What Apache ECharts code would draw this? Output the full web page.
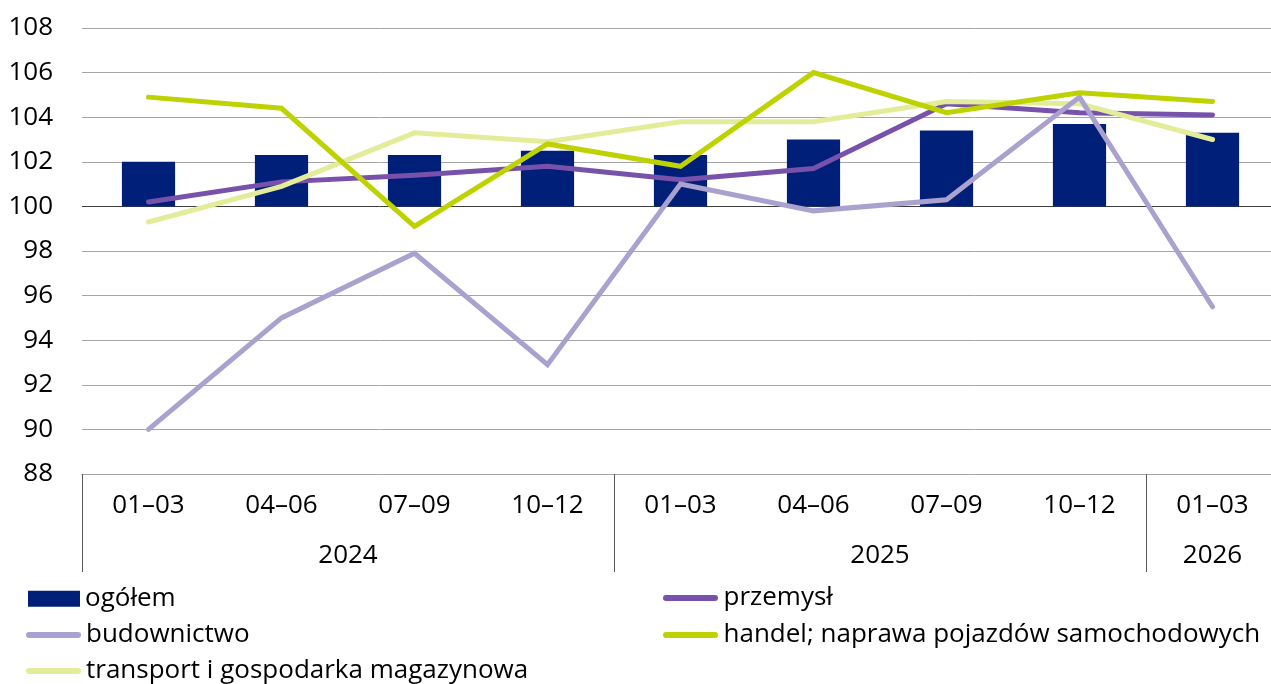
<!DOCTYPE html>
<html>
<head>
<meta charset="utf-8">
<script src="https://cdn.jsdelivr.net/npm/echarts@6/dist/echarts.min.js"></script>
<style>
  html, body { margin: 0; padding: 0; background: #ffffff; }
  #chart { width: 1271px; height: 684px; }
</style>
</head>
<body>
<div id="chart"></div>
<script>
// Quarter labels and year groups for the two-level category axis
const quarters = ['01–03', '04–06', '07–09', '10–12', '01–03', '04–06', '07–09', '10–12', '01–03'];
const years = ['2024', '2025', '2026'];
const yearSpans = [4, 4, 1];

// Index values (same period of previous year = 100)
const ogolem = [102.0, 102.3, 102.3, 102.5, 102.3, 103.0, 103.4, 103.7, 103.3];
const przemysl = [100.2, 101.1, 101.4, 101.8, 101.2, 101.7, 104.6, 104.2, 104.1];
const budownictwo = [90.0, 95.0, 97.9, 92.9, 101.0, 99.8, 100.3, 104.9, 95.5];
const handel = [104.9, 104.4, 99.1, 102.8, 101.8, 106.0, 104.2, 105.1, 104.7];
const transport = [99.3, 100.9, 103.3, 102.9, 103.8, 103.8, 104.7, 104.6, 103.0];

// Value axis settings
const Y_MIN = 88, Y_MAX = 108, Y_STEP = 2;
const BASE = 100;

const FONT = '"Open Sans", "Liberation Sans", sans-serif';
const COLORS = {
  ogolem: '#001f78',
  przemysl: '#7852aa',
  budownictwo: '#aba1cf',
  handel: '#bed200',
  transport: '#e3ed99'
};

// Half-slot axis for year labels: label in the middle of each group, ticks at group edges
const slotCount = quarters.length * 2 + 1;
const yearSlots = new Array(slotCount).fill('');
const yearEdges = [0];
let start = 0;
years.forEach((y, i) => {
  yearSlots[start * 2 + yearSpans[i]] = y;
  start += yearSpans[i];
  yearEdges.push(start * 2);
});

// Grid line colours: the base line at 100 is darker
const splitColors = [];
for (let v = Y_MIN; v <= Y_MAX; v += Y_STEP) {
  splitColors.push(v === BASE ? '#404040' : '#a6a6a6');
}

const lineSeries = (name, data, color) => ({
  name: name,
  type: 'line',
  xAxisIndex: 0,
  data: data,
  symbol: 'none',
  color: color,
  lineStyle: { width: 5, color: color, cap: 'round', join: 'miter' },
  emphasis: { disabled: true },
  animation: false
});

const lineIcon = 'path://M3,0H52A3,3,0,0,1,52,6H3A3,3,0,0,1,3,0Z';
const legendText = { fontFamily: FONT, fontSize: 26, color: '#000', lineHeight: 30 };

const chart = echarts.init(document.getElementById('chart'), null, { renderer: 'canvas' });
chart.setOption({
  animation: false,
  backgroundColor: '#ffffff',
  grid: { left: 82, right: -8, top: 28, bottom: 210, containLabel: false, outerBoundsMode: 'none' },
  xAxis: [
    {
      type: 'category',
      data: quarters,
      position: 'bottom',
      axisLine: { show: true, lineStyle: { color: '#a6a6a6', width: 1 } },
      axisTick: { show: false },
      axisLabel: { interval: 0, margin: 17, fontFamily: FONT, fontSize: 26, color: '#000', lineHeight: 30 },
      splitLine: { show: false }
    },
    {
      type: 'category',
      data: yearSlots,
      boundaryGap: false,
      position: 'bottom',
      axisLine: { show: false },
      axisTick: {
        show: true,
        length: 98,
        interval: (idx) => yearEdges.indexOf(idx) !== -1,
        lineStyle: { color: '#595959', width: 1 }
      },
      axisLabel: { interval: 0, margin: 67, fontFamily: FONT, fontSize: 26, color: '#000', lineHeight: 30 },
      splitLine: { show: false }
    }
  ],
  yAxis: {
    type: 'value',
    min: Y_MIN,
    max: Y_MAX,
    interval: Y_STEP,
    axisLine: { show: false },
    axisTick: { show: false },
    axisLabel: { margin: 29, fontFamily: FONT, fontSize: 26, color: '#000' },
    splitLine: { show: true, lineStyle: { color: splitColors, width: 1 } }
  },
  legend: [
    {
      orient: 'vertical', left: 28, top: 583.7, padding: 0, height: 120,
      itemWidth: 52, itemHeight: 16, itemGap: 6,
      textStyle: legendText,
      selectedMode: false,
      data: [{ name: 'ogółem', icon: 'rect' }]
    },
    {
      orient: 'vertical', left: 26, top: 620, padding: 0, height: 120,
      itemWidth: 55, itemHeight: 6, itemGap: 6,
      textStyle: legendText,
      selectedMode: false,
      data: [
        { name: 'budownictwo', icon: lineIcon },
        { name: 'transport i gospodarka magazynowa', icon: lineIcon }
      ]
    },
    {
      orient: 'vertical', left: 663, top: 583, padding: 0, height: 120,
      itemWidth: 56, itemHeight: 6, itemGap: 7,
      textStyle: legendText,
      selectedMode: false,
      data: [
        { name: 'przemysł', icon: lineIcon },
        { name: 'handel; naprawa pojazdów samochodowych', icon: lineIcon }
      ]
    }
  ],
  series: [
    {
      name: 'ogółem',
      type: 'custom',
      xAxisIndex: 0,
      color: COLORS.ogolem,
      itemStyle: { color: COLORS.ogolem },
      data: ogolem.map((v, i) => [i, v]),
      encode: { x: 0, y: 1 },
      renderItem: (params, api) => {
        const top = api.coord([api.value(0), api.value(1)]);
        const base = api.coord([api.value(0), BASE]);
        const w = api.size([1, 0])[0] * 0.4;
        return {
          type: 'rect',
          shape: { x: top[0] - w / 2, y: top[1], width: w, height: base[1] - top[1] },
          style: { fill: COLORS.ogolem }
        };
      },
      animation: false
    },
    lineSeries('przemysł', przemysl, COLORS.przemysl),
    lineSeries('transport i gospodarka magazynowa', transport, COLORS.transport),
    lineSeries('budownictwo', budownictwo, COLORS.budownictwo),
    lineSeries('handel; naprawa pojazdów samochodowych', handel, COLORS.handel)
  ]
});
</script>
</body>
</html>
